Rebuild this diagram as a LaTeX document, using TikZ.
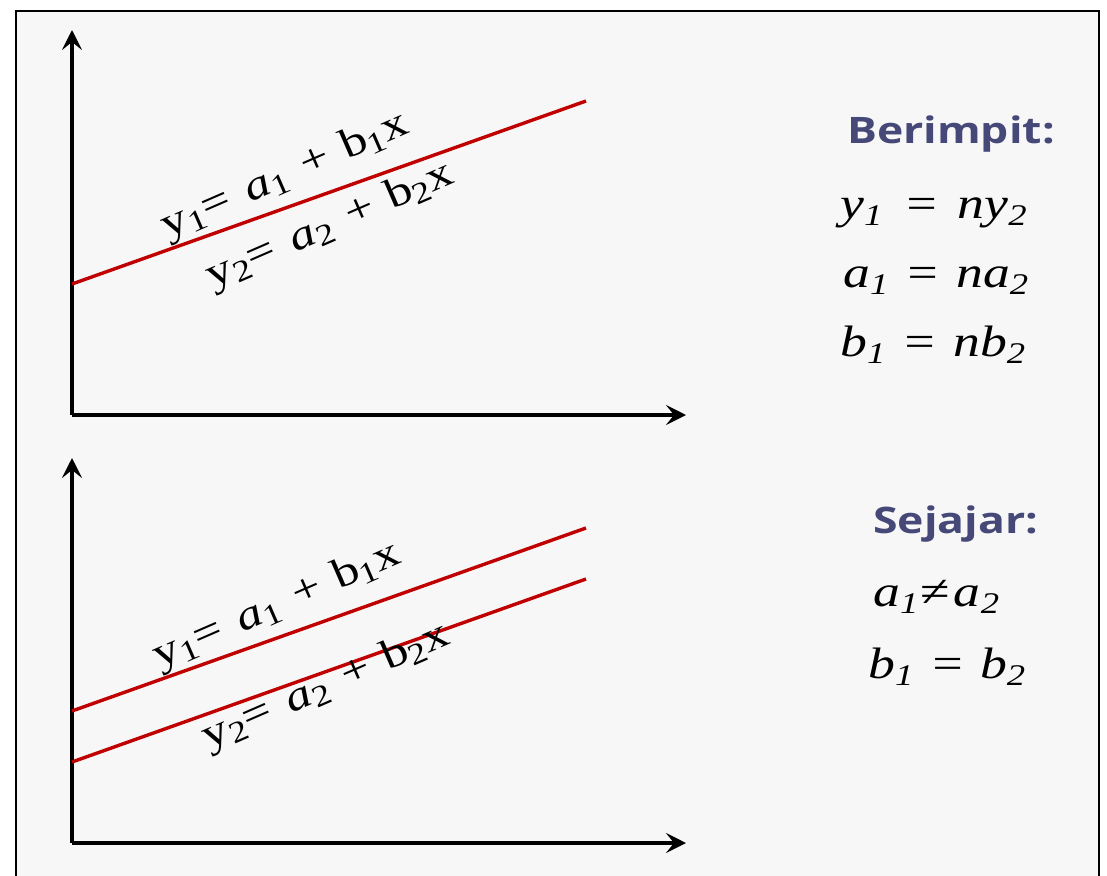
\documentclass[tikz,border=0pt]{standalone}
\usepackage{graphicx}
\usepackage{fontspec}
\setmainfont{Liberation Serif}
\newfontfamily\headfont{Open Sans}
\usetikzlibrary{arrows.meta}
\definecolor{bgc}{HTML}{F7F7F7}
\definecolor{redl}{HTML}{C00000}
\definecolor{headc}{HTML}{464878}
\newcommand\lsub[1]{\raisebox{-6pt}{\fontsize{30}{30}\selectfont #1}}
\newcommand\esub[1]{\raisebox{-7pt}{\fontsize{30}{30}\selectfont #1}}
\newcommand\stretchit[1]{\scalebox{1.22}[1]{#1}}
\tikzset{
  axis/.style={line width=3.4pt,-{Stealth[length=20pt,width=20pt,inset=8pt]}},
  redline/.style={redl,line width=3.4pt},
  lbl/.style={font=\fontsize{42}{44}\selectfont,inner sep=0pt,rotate=23.5},
  head/.style={font=\headfont\bfseries\fontsize{36.5}{40}\selectfont,text=headc,inner sep=0pt,anchor=base west},
  eqn/.style={font=\fontsize{44}{46}\selectfont\itshape,inner sep=0pt,anchor=base west}
}
\begin{document}
\begin{tikzpicture}[x=1pt,y=-1pt]
\useasboundingbox (0,0) rectangle (1107,875);
\fill[white] (0,0) rectangle (1107,875);
\fill[bgc] (16,11) rectangle (1099,880);
\draw[line width=1.6pt] (16,880) -- (16,11) -- (1099,11) -- (1099,880);
% top graph
\coordinate (o1) at (72,415);
\coordinate (ty1) at (72,30);
\coordinate (tx1) at (686,415);
\draw[axis] (o1) -- (ty1);
\draw[axis] (o1) -- (tx1);
\coordinate (l1a) at (72,284);
\coordinate (l1b) at (586,101);
\draw[redline] (l1a) -- (l1b);
\node[lbl] (t1) at (285,176) {\stretchit{y\lsub{1}=\hspace{4pt} \textit{a}\lsub{1}\hspace{4pt} + \hspace{2pt}b\lsub{1}x}};
\node[lbl] (t2) at (330,226) {\stretchit{y\lsub{2}=\hspace{4pt} \textit{a}\lsub{2}\hspace{4pt} + \hspace{2pt}b\lsub{2}x}};
% bottom graph
\coordinate (o2) at (72,843);
\coordinate (ty2) at (72,458);
\coordinate (tx2) at (686,843);
\draw[axis] (o2) -- (ty2);
\draw[axis] (o2) -- (tx2);
\coordinate (l2a) at (72,711);
\coordinate (l2b) at (586,528);
\coordinate (l3a) at (72,762);
\coordinate (l3b) at (586,579);
\draw[redline] (l2a) -- (l2b);
\draw[redline] (l3a) -- (l3b);
\node[lbl] (t3) at (277,606) {\stretchit{y\lsub{1}=\hspace{4pt} \textit{a}\lsub{1}\hspace{4pt} + \hspace{2pt}b\lsub{1}x}};
\node[lbl] (t4) at (326,687) {\stretchit{y\lsub{2}=\hspace{4pt} \textit{a}\lsub{2}\hspace{4pt} + \hspace{2pt}b\lsub{2}x}};
% right texts
\node[head] (h1) at (847,143) {\stretchit{Berimpit:}};
\node[eqn] (e1) at (840,218) {\stretchit{y\esub{1}\hspace{6pt} = \hspace{4pt}ny\esub{2}}};
\node[eqn] (e2) at (843,287) {\stretchit{a\esub{1}\hspace{2pt} = \hspace{2pt}na\esub{2}}};
\node[eqn] (e3) at (840,356) {\stretchit{b\esub{1}\hspace{2pt} = \hspace{2pt}nb\esub{2}}};
\node[head] (h2) at (873,533) {\stretchit{Sejajar:}};
\node[eqn] (e4) at (873,606) {\stretchit{a\esub{1}\hspace{2pt}{\upshape ≠}\hspace{3pt}a\esub{2}}};
\node[eqn] (e5) at (868,678) {\stretchit{b\esub{1}\hspace{2pt} = \hspace{1pt}b\esub{2}}};
\end{tikzpicture}
\end{document}
